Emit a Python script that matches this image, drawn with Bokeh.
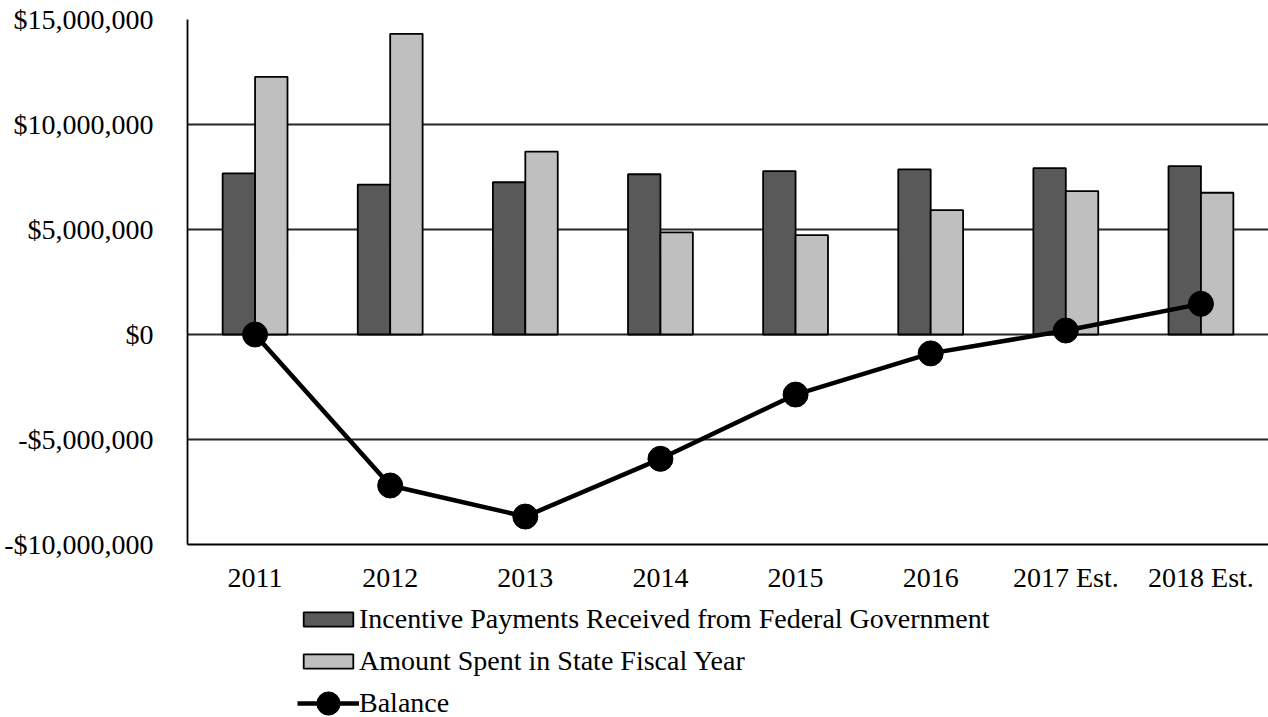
from bokeh.plotting import figure
from bokeh.layouts import column
from bokeh.models import (ColumnDataSource, FactorRange, Range1d, FixedTicker,
                          Legend, LegendItem)
from bokeh.transform import dodge
from bokeh.embed import file_html
from bokeh.resources import INLINE

# ---- data ----
years = ["2011", "2012", "2013", "2014", "2015", "2016", "2017 Est.", "2018 Est."]
incentive = [7670000, 7140000, 7250000, 7630000, 7780000, 7860000, 7920000, 8020000]
spent = [12270000, 14320000, 8710000, 4860000, 4730000, 5920000, 6830000, 6750000]
balance = [0, -7190000, -8670000, -5920000, -2860000, -900000, 190000, 1460000]

y_ticks = [-10000000, -5000000, 0, 5000000, 10000000, 15000000]
y_tick_labels = ["-$10,000,000", "-$5,000,000", "$0", "$5,000,000", "$10,000,000", "$15,000,000"]

series_names = ["Incentive Payments Received from Federal Government",
                "Amount Spent in State Fiscal Year",
                "Balance"]

FONT = "Liberation Serif"
FS = "28px"
DARK = "#595959"
LIGHT = "#BFBFBF"

source = ColumnDataSource(dict(years=years, incentive=incentive, spent=spent, balance=balance))


def add_series(fig, visible=True):
    d = fig.vbar(x=dodge("years", -0.12, range=fig.x_range), top="incentive", bottom=0, width=0.24,
                 source=source, fill_color=DARK, line_color="black", line_width=1.8, visible=visible)
    l = fig.vbar(x=dodge("years", 0.12, range=fig.x_range), top="spent", bottom=0, width=0.24,
                 source=source, fill_color=LIGHT, line_color="black", line_width=1.8, visible=visible)
    ln = fig.line(x="years", y="balance", source=source, line_color="black", line_width=4.5,
                  visible=visible)
    dt = fig.scatter(x="years", y="balance", source=source, size=25, marker="circle",
                     fill_color="black", line_color="black", visible=visible)
    return d, l, ln, dt


p = figure(width=1268, height=600, output_backend="svg", toolbar_location=None,
           title=None, x_range=FactorRange(*years), y_range=Range1d(-10000000, 15000000),
           min_border_left=187, min_border_right=0, min_border_top=19, min_border_bottom=56)
p.outline_line_color = None
p.background_fill_color = "white"
p.border_fill_color = "white"
add_series(p)

# axes
p.yaxis.ticker = FixedTicker(ticks=y_ticks)
p.yaxis.major_label_overrides = {t: l for t, l in zip(y_ticks, y_tick_labels)}
p.yaxis.major_label_text_font = FONT
p.yaxis.major_label_text_font_size = FS
p.yaxis.major_label_text_color = "black"
p.yaxis.major_label_standoff = 28
p.yaxis.major_tick_line_color = None
p.yaxis.minor_tick_line_color = None
p.yaxis.axis_line_color = "black"
p.yaxis.axis_line_width = 1.8

p.xaxis.major_label_text_font = FONT
p.xaxis.major_label_text_font_size = FS
p.xaxis.major_label_text_color = "black"
p.xaxis.major_label_standoff = 11
p.xaxis.major_tick_line_color = None
p.xaxis.axis_line_color = "black"
p.xaxis.axis_line_width = 1.8

p.xgrid.grid_line_color = None
p.ygrid.grid_line_color = "#262626"
p.ygrid.grid_line_width = 1.8
p.ygrid.ticker = FixedTicker(ticks=y_ticks)

# ---- legend strip below the chart (same series, hidden; only the legend shows) ----
lf = figure(width=1268, height=117, output_backend="svg", toolbar_location=None,
            title=None, x_range=p.x_range, y_range=Range1d(-10000000, 15000000),
            x_axis_type=None, y_axis_type=None,
            min_border_left=187, min_border_right=0, min_border_top=0, min_border_bottom=0)
lf.outline_line_color = None
lf.xgrid.grid_line_color = None
lf.ygrid.grid_line_color = None
r_dark, r_light, r_line, r_dot = add_series(lf, visible=False)


def make_legend(label, renderers, gh, loc_y):
    lg = Legend(items=[LegendItem(label=label, renderers=renderers)],
                location=(110, loc_y), orientation="vertical",
                glyph_width=62, glyph_height=gh, label_height=gh,
                label_standoff=0, padding=0, margin=0, spacing=0,
                border_line_color=None, background_fill_alpha=0,
                inactive_fill_alpha=0,
                label_text_font=FONT, label_text_font_size=FS, label_text_color="black")
    lf.add_layout(lg, "center")


make_legend(series_names[0], [r_dark], 18, 82)
make_legend(series_names[1], [r_light], 18, 40)
make_legend(series_names[2], [r_line, r_dot], 58, -15)

layout = column(p, lf, spacing=0)
open("out.html", "w").write(file_html(layout, INLINE))
